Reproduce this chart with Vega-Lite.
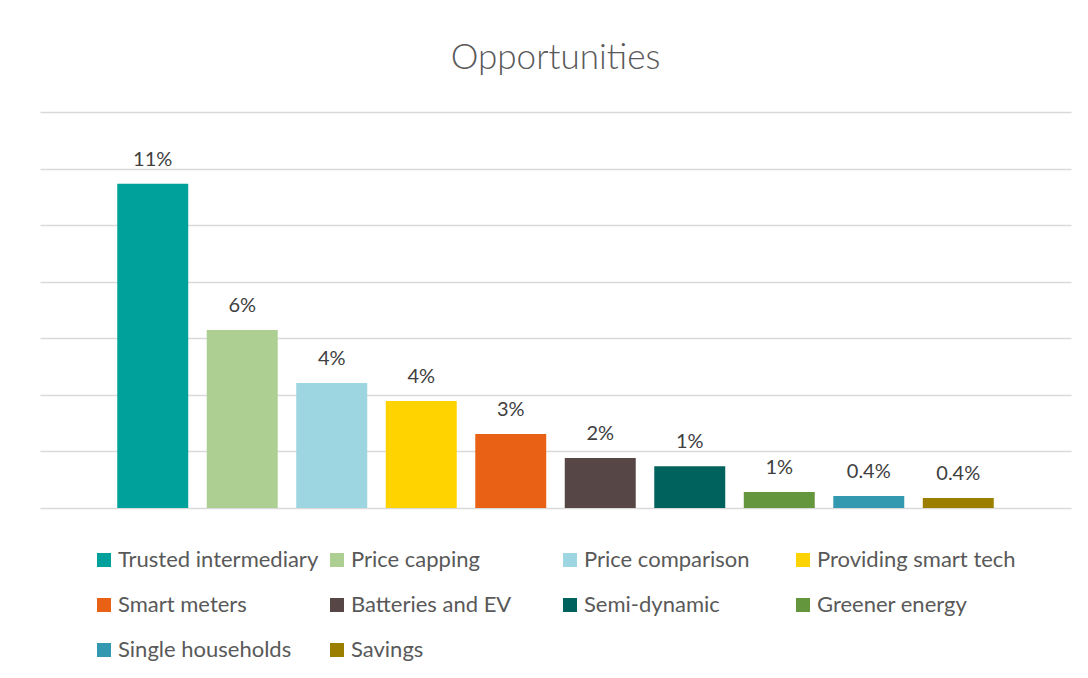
{
  "$schema": "https://vega.github.io/schema/vega-lite/v6.json",
  "width": 1031,
  "height": 396,
  "autosize": {"type": "none"},
  "padding": {"left": 40, "top": 112, "right": 17, "bottom": 170},
  "background": "white",
  "title": {
    "text": "Opportunities",
    "font": "Lato",
    "fontSize": 35,
    "fontWeight": 300,
    "color": "#595959",
    "offset": 36,
    "anchor": "middle"
  },
  "data": {
    "values": [
      {"category": "Trusted intermediary", "value": 11.46, "label": "11%"},
      {"category": "Price capping", "value": 6.29, "label": "6%"},
      {"category": "Price comparison", "value": 4.42, "label": "4%"},
      {"category": "Providing smart tech", "value": 3.78, "label": "4%"},
      {"category": "Smart meters", "value": 2.62, "label": "3%"},
      {"category": "Batteries and EV", "value": 1.77, "label": "2%"},
      {"category": "Semi-dynamic", "value": 1.48, "label": "1%"},
      {"category": "Greener energy", "value": 0.57, "label": "1%"},
      {"category": "Single households", "value": 0.42, "label": "0.4%"},
      {"category": "Savings", "value": 0.35, "label": "0.4%"}
    ]
  },
  "encoding": {
    "x": {
      "field": "category",
      "type": "nominal",
      "sort": null,
      "axis": null,
      "scale": {"paddingInner": 0.207, "paddingOuter": 0.863}
    },
    "y": {
      "field": "value",
      "type": "quantitative",
      "scale": {"domain": [0, 14], "nice": false},
      "axis": {
        "values": [0, 2, 4, 6, 8, 10, 12, 14],
        "labels": false,
        "ticks": false,
        "domain": false,
        "title": null,
        "grid": true,
        "gridColor": "#D9D9D9",
        "gridWidth": 1.5
      }
    }
  },
  "layer": [
    {
      "mark": {"type": "bar"},
      "encoding": {
        "color": {
          "field": "category",
          "type": "nominal",
          "sort": null,
          "scale": {
            "domain": ["Trusted intermediary", "Price capping", "Price comparison", "Providing smart tech", "Smart meters", "Batteries and EV", "Semi-dynamic", "Greener energy", "Single households", "Savings"],
            "range": ["#00A19A", "#ADD092", "#9DD5E0", "#FFD300", "#E96114", "#574646", "#00625C", "#64963D", "#3399B0", "#9B7F00"]
          },
          "legend": {
            "title": null,
            "orient": "none",
            "legendX": 53,
            "legendY": 437,
            "direction": "horizontal",
            "columns": 4,
            "gridAlign": "all",
            "symbolType": "square",
            "symbolSize": 196,
            "symbolStrokeWidth": 0,
            "symbolOpacity": 1,
            "labelFont": "Lato",
            "labelFontSize": 22,
            "labelColor": "#595959",
            "labelOffset": 3,
            "labelLimit": 400,
            "columnPadding": 7,
            "rowPadding": 23,
            "padding": 0
          }
        }
      }
    },
    {
      "mark": {"type": "text", "font": "Lato", "fontSize": 20, "color": "#404040", "baseline": "alphabetic", "dy": -18},
      "encoding": {
        "text": {"field": "label"}
      }
    }
  ],
  "config": {
    "view": {"stroke": null}
  }
}
